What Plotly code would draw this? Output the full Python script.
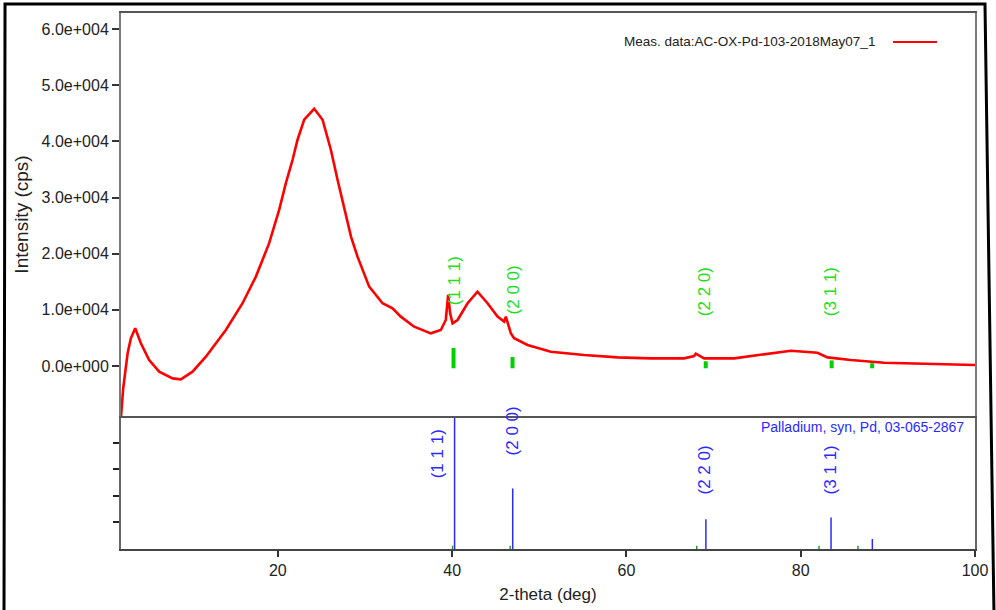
import plotly.graph_objects as go

# ---------------- data ----------------
two_theta = [2.00, 2.25, 2.76, 3.13, 3.63, 4.28, 5.23, 6.38, 7.92, 8.87,
             10.21, 11.74, 14.03, 15.95, 17.48, 19.00, 20.15, 20.92, 21.69, 22.26,
             23.02, 24.17, 25.13, 26.08, 26.85, 27.80, 28.40, 29.14, 30.48, 32.01,
             33.16, 34.11, 35.64, 37.55, 38.70, 39.27, 39.54, 39.77, 40.05, 40.62,
             41.77, 42.91, 44.06, 45.21, 45.97, 46.16, 46.74, 47.11, 47.88, 48.65,
             51.32, 55.14, 58.97, 62.79, 66.61, 67.76, 67.96, 68.53, 68.92, 72.36,
             75.42, 78.86, 81.92, 83.07, 85.74, 89.56, 95.30, 100.0]
intensity = [-9000, -4000, 2260, 4940, 6720, 4050, 1070, -1010, -2200, -2370,
             -1010, 1660, 6420, 11180, 15920, 21870, 27800, 32570, 36720, 40290,
             43850, 45800, 43850, 38500, 33150, 26600, 23000, 19480, 14140, 11180,
             10280, 8790, 7000, 5820, 6420, 8200, 12660, 9390, 7610, 8200,
             11180, 13240, 11180, 8790, 7900, 8790, 5820, 4940, 4330, 3740,
             2550, 1960, 1540, 1370, 1370, 1780, 2200, 1660, 1370, 1370,
             1960, 2730, 2370, 1540, 1070, 590, 360, 180]

# reference card: Palladium, syn, Pd, 03-065-2867
stick_pos = [40.28, 46.95, 69.12, 83.48, 88.22]
stick_int = [100, 45.5, 22.4, 23.7, 7.5]
hkl_text = ["(1 1 1)", "(2 0 0)", "(2 2 0)", "(3 1 1)"]

# green peak markers under the measured pattern
marker_pos = [40.16, 46.93, 69.10, 83.55, 88.20]
marker_len = [3600, 2000, 1250, 1400, 900]
marker_base = -400

# small green ticks on the lower axis
axis_mark_pos = [40.05, 46.66, 68.07, 82.10, 86.57]

# label positions
green_label_x = [40.24, 47.03, 68.97, 83.43]
green_label_y = [15130, 13530, 13260, 13260]
blue_label_x = [38.32, 46.93, 69.00, 83.45]
blue_label_y = [71.6, 88.8, 59.7, 59.7]

ytick_vals = [0, 10000, 20000, 30000, 40000, 50000, 60000]
ytick_text = ["0.0e+000", "1.0e+004", "2.0e+004", "3.0e+004",
              "4.0e+004", "5.0e+004", "6.0e+004"]
xtick_vals = [20, 40, 60, 80, 100]
ref_yticks = [20, 40, 60, 80]

legend_name = "Meas. data:AC-OX-Pd-103-2018May07_1"
card_name = "Palladium, syn, Pd, 03-065-2867"

RED = "#ff0000"
BLUE = "#2a2aff"
GREEN = "#22dd22"
GREEN_BAR = "#00d000"
FONT = "Liberation Sans, Arial, sans-serif"

fig = go.Figure()

# measured pattern (top panel)
fig.add_trace(go.Scatter(x=two_theta, y=intensity, mode="lines",
                         line=dict(color=RED, width=2.6),
                         xaxis="x2", yaxis="y", showlegend=False,
                         name=legend_name))

# green markers
gx, gy = [], []
for p, l in zip(marker_pos, marker_len):
    gx += [p, p, None]
    gy += [marker_base, marker_base + l, None]
fig.add_trace(go.Scatter(x=gx, y=gy, mode="lines",
                         line=dict(color=GREEN_BAR, width=4),
                         xaxis="x2", yaxis="y", showlegend=False))

# reference sticks (bottom panel)
bx, by = [], []
for p, h in zip(stick_pos, stick_int):
    bx += [p, p, None]
    by += [0, h, None]
fig.add_trace(go.Scatter(x=bx, y=by, mode="lines",
                         line=dict(color=BLUE, width=1.5),
                         xaxis="x", yaxis="y2", showlegend=False))

ax, ay = [], []
for p in axis_mark_pos:
    ax += [p, p, None]
    ay += [0, 2.5, None]
fig.add_trace(go.Scatter(x=ax, y=ay, mode="lines",
                         line=dict(color="#2a9a2a", width=1.5),
                         xaxis="x", yaxis="y2", showlegend=False))

annotations = []
for t, x, y in zip(hkl_text, green_label_x, green_label_y):
    annotations.append(dict(x=x, y=y, xref="x2", yref="y", text=t, textangle=-90,
                            showarrow=False, font=dict(family=FONT, size=17, color=GREEN),
                            xanchor="center", yanchor="middle"))
for t, x, y in zip(hkl_text, blue_label_x, blue_label_y):
    annotations.append(dict(x=x, y=y, xref="x", yref="y2", text=t, textangle=-90,
                            showarrow=False, font=dict(family=FONT, size=17, color=BLUE),
                            xanchor="center", yanchor="middle"))

# legend text (symbol sits to the right of the text)
annotations.append(dict(x=0.8852, y=0.9459, xref="paper", yref="paper", text=legend_name,
                        showarrow=False, xanchor="right", yanchor="middle",
                        font=dict(family=FONT, size=13.5, color="#222222")))
annotations.append(dict(x=0.9895, y=0.2276, xref="paper", yref="paper", text=card_name,
                        showarrow=False, xanchor="right", yanchor="middle",
                        font=dict(family=FONT, size=14, color=BLUE)))

shapes = [
    dict(type="line", xref="paper", yref="paper", x0=0.904, x1=0.9555, y0=0.9459, y1=0.9459,
         line=dict(color=RED, width=2)),
    dict(type="path", xref="paper", yref="paper",
         path="M -0.1358,1.0168 L 1.0117,1.0168 L 1.0222,-0.1175 L -0.137,-0.1175 Z",
         line=dict(color="black", width=3)),
]

fig.update_layout(
    width=996, height=610,
    margin=dict(l=121, r=21, t=13, b=61),
    paper_bgcolor="white", plot_bgcolor="white",
    font=dict(family=FONT, size=16, color="#222222"),
    showlegend=False,
    annotations=annotations,
    shapes=shapes,
    xaxis=dict(domain=[0, 1], anchor="y2", range=[2, 100], tickvals=xtick_vals,
               ticks="outside", ticklen=6, tickwidth=1.5, tickcolor="#333333",
               showline=True, linecolor="#444444", linewidth=2, mirror=False,
               showgrid=False, zeroline=False, automargin=False,
               tickfont=dict(family=FONT, size=16, color="#222222"),
               title=dict(text="2-theta (deg)", standoff=10,
                          font=dict(family=FONT, size=17, color="#222222"))),
    xaxis2=dict(domain=[0, 1], anchor="y", matches="x", range=[2, 100],
                showticklabels=False, ticks="", showline=True, linecolor="#555555",
                linewidth=1.5, mirror=True, showgrid=False, zeroline=False,
                automargin=False),
    yaxis=dict(domain=[0.2481, 1], anchor="x2", range=[-8900, 62850],
               tickvals=ytick_vals, ticktext=ytick_text,
               ticks="outside", ticklen=7, tickwidth=1.5, tickcolor="#333333",
               showline=True, linecolor="#7a7a7a", linewidth=2, mirror=True,
               showgrid=False, zeroline=False, automargin=False,
               tickfont=dict(family=FONT, size=16, color="#222222"),
               title=dict(text="Intensity (cps)", standoff=8,
                          font=dict(family=FONT, size=19, color="#222222"))),
    yaxis2=dict(domain=[0, 0.2481], anchor="x", range=[0, 100], tickvals=ref_yticks,
                showticklabels=False, ticks="outside", ticklen=6, tickwidth=1.5,
                tickcolor="#222222", showline=True, linecolor="#666666", linewidth=2,
                mirror=True, showgrid=False, zeroline=False, automargin=False),
)

fig.write_html("out.html",
               config={"displayModeBar": False},
               post_script="document.body.style.margin='0';document.body.style.padding='0';")
